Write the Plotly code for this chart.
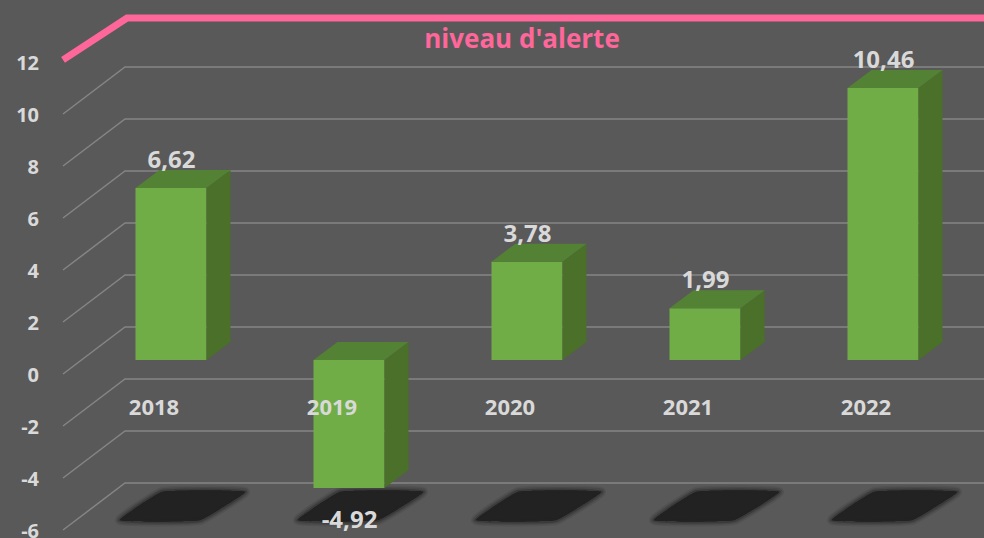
import plotly.graph_objects as go

categories = ["2018", "2019", "2020", "2021", "2022"]
values = [6.62, -4.92, 3.78, 1.99, 10.46]
value_labels = ["6,62", "-4,92", "3,78", "1,99", "10,46"]
tick_values = [12, 10, 8, 6, 4, 2, 0, -2, -4, -6]
tick_labels = ["12", "10", "8", "6", "4", "2", "0", "-2", "-4", "-6"]
grid_values = [10, 8, 6, 4, 2, 0, -2, -4, -6]
alert_front = 12.08
alert_back = 11.88
alert_label = "niveau d'alerte"

BG = "#595959"
FRONT = "#70AD47"
TOP = "#548235"
SIDE = "#4A7029"
PINK = "#FF6699"
GRID = "#858585"
TEXT = "#D9D9D9"
FONT = "Open Sans"

W, H = 984, 538
LEFT = 40
PXX = 178.0                    # px per category
PXY = 26.0                     # px per value unit
X0 = 171.5                     # px of first category
ZERO_TICK = 375.0              # px of value 0 for the axis labels
ZERO_WALL = 374.0              # px of value 0 on front edge of wall
ZERO_BAR = 360.0               # px of value 0 on bar front plane
xmin, xmax = (LEFT - X0) / PXX, (W - X0) / PXX
wall_f, wall_b = (63 - X0) / PXX, (125 - X0) / PXX
wall_rise = 47 / PXY
bar_w = 71 / PXX
bar_dx, bar_dy = 24 / PXX, 18 / PXY
X_OFF = -0.5 / PXX

fig = go.Figure()

# invisible carrier so the label axis is drawn
fig.add_trace(go.Scatter(x=[None], y=[None], mode="lines", yaxis="y", showlegend=False, hoverinfo="skip"))

# wall / floor grid
gx, gy = [], []
for v in grid_values:
    gx += [wall_f, wall_b, xmax, None]
    gy += [v, v + wall_rise, v + wall_rise, None]
fig.add_trace(go.Scatter(x=gx, y=gy, mode="lines", line=dict(color=GRID, width=1.5),
                         hoverinfo="skip", yaxis="y2", showlegend=False))

# floor shadows
floor = -6
for i in range(len(categories)):
    c = i - 0.5 * bar_w
    sx = [c - 16 / PXX, c + 64 / PXX, c + 109 / PXX, c + 26 / PXX, c - 16 / PXX]
    sy = [floor + 10 / PXY, floor + 10 / PXY, floor + 38 / PXY, floor + 38 / PXY, floor + 10 / PXY]
    for lw, alpha in ((10, 0.12), (7, 0.2), (4, 0.35)):
        fig.add_trace(go.Scatter(x=sx, y=sy, mode="lines", fill="toself", fillcolor="#222222",
                                 line=dict(color=f"rgba(34,34,34,{alpha})", width=lw,
                                           shape="spline", smoothing=0.3),
                                 hoverinfo="skip", yaxis="y2", showlegend=False))

# alert line
fig.add_trace(go.Scatter(x=[wall_f, (127 - X0) / PXX, xmax],
                         y=[alert_front, alert_back + wall_rise, alert_back + wall_rise],
                         mode="lines", line=dict(color=PINK, width=7),
                         hoverinfo="skip", yaxis="y2", showlegend=False))

# bar front faces
xs = list(range(len(categories)))
bar_x = [i + X_OFF for i in xs]
fig.add_trace(go.Bar(x=bar_x, y=values, width=bar_w, marker=dict(color=FRONT, line=dict(width=0)),
                     yaxis="y3", showlegend=False, hoverinfo="skip"))

# bar side and top faces
for b, v in zip(bar_x, values):
    l, r = b - bar_w / 2, b + bar_w / 2
    hi = max(v, 0)
    lo = min(v, 0)
    fig.add_trace(go.Scatter(x=[r, r + bar_dx, r + bar_dx, r, r],
                             y=[hi, hi + bar_dy, lo + bar_dy, lo, hi],
                             mode="lines", fill="toself", fillcolor=SIDE, line=dict(width=0),
                             hoverinfo="skip", yaxis="y3", showlegend=False))
    fig.add_trace(go.Scatter(x=[l, l + bar_dx, r + bar_dx, r, l],
                             y=[hi, hi + bar_dy, hi + bar_dy, hi, hi],
                             mode="lines", fill="toself", fillcolor=TOP, line=dict(width=0),
                             hoverinfo="skip", yaxis="y3", showlegend=False))

# category labels
fig.add_trace(go.Scatter(x=[i - 17.5 / PXX for i in xs], y=[-49 / PXY] * len(xs), text=categories,
                         mode="text", textfont=dict(family=FONT, size=22, color=TEXT, weight=700),
                         textposition="middle center", hoverinfo="skip", yaxis="y3", showlegend=False))

# value labels
fig.add_trace(go.Scatter(x=xs, y=[v + 26 / PXY if v >= 0 else v - 34 / PXY for v in values],
                         text=value_labels, mode="text",
                         textfont=dict(family=FONT, size=24, color=TEXT, weight=700),
                         textposition="middle center", hoverinfo="skip", yaxis="y3", showlegend=False))

# alert label
fig.add_trace(go.Scatter(x=[(522 - X0) / PXX], y=[(ZERO_BAR - 41) / PXY], text=[alert_label], mode="text",
                         textfont=dict(family=FONT, size=26, color=PINK, weight=700),
                         textposition="middle center", hoverinfo="skip", yaxis="y3", showlegend=False))

fig.update_layout(
    width=W, height=H, autosize=False,
    margin=dict(l=LEFT, r=0, t=0, b=0, pad=0, autoexpand=False),
    paper_bgcolor=BG, plot_bgcolor=BG, showlegend=False,
    xaxis=dict(range=[xmin, xmax], visible=False, fixedrange=True),
    yaxis=dict(range=[(ZERO_TICK - H) / PXY, ZERO_TICK / PXY], tickmode="array",
               tickvals=tick_values, ticktext=tick_labels, showgrid=False, zeroline=False,
               ticks="", showline=False, fixedrange=True, ticklabeloverflow="allow", automargin=False,
               tickfont=dict(family=FONT, size=20, color=TEXT, weight=700)),
    yaxis2=dict(range=[(ZERO_WALL - H) / PXY, ZERO_WALL / PXY], overlaying="y", side="left",
                visible=False, fixedrange=True),
    yaxis3=dict(range=[(ZERO_BAR - H) / PXY, ZERO_BAR / PXY], overlaying="y", side="left",
                visible=False, fixedrange=True),
)
fig.write_html("out.html", config={"displayModeBar": False},
               post_script="document.body.style.margin='0';document.body.style.overflow='hidden';document.body.style.background='#595959';")
